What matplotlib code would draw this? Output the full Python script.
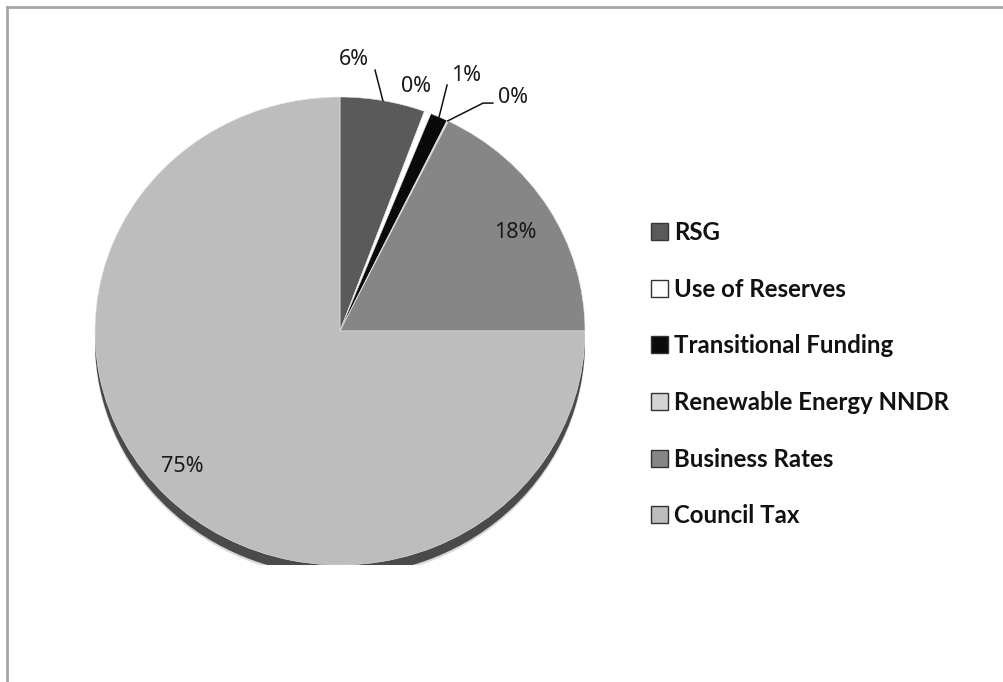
import matplotlib
matplotlib.use("Agg")
import matplotlib.pyplot as plt
from matplotlib.patches import Ellipse, Patch
from matplotlib.lines import Line2D
import numpy as np

categories = ["RSG", "Use of Reserves", "Transitional Funding",
              "Renewable Energy NNDR", "Business Rates", "Council Tax"]
values = [5.6, 0.45, 1.15, 0.1, 17.7, 75.0]
colors = ["#5a5a5a", "#ffffff", "#0a0a0a", "#d4d4d4", "#868686", "#bdbdbd"]

# layout: label positions (data coords of the pie axes) and leader line ends
label_pos = [(0.057, 1.162), (0.310, 1.047), (0.514, 1.090),
             (0.706, 1.000), (0.714, 0.419), (-0.645, -0.581)]
leaders = {0: [(0.143, 1.115)],
           2: [(0.437, 1.051)],
           3: [(0.584, 0.974), (0.624, 0.974)]}

W, H = 1004, 682
fig = plt.figure(figsize=(W / 100, H / 100), dpi=100)
fig.patch.set_facecolor("white")

# outer frame (gray, running off right/bottom)
fig.add_artist(Line2D([7 / W, 1.0], [1 - 7 / H, 1 - 7 / H], transform=fig.transFigure,
                      color="#a6a6a6", lw=2))
fig.add_artist(Line2D([7 / W, 7 / W], [0.0, 1 - 7 / H], transform=fig.transFigure,
                      color="#a6a6a6", lw=2))

cx, cy, rx, ry = 340, 331, 245, 234
ax = fig.add_axes([(cx - rx) / W, (H - cy - ry) / H, 2 * rx / W, 2 * ry / H])

# drop shadow
ax.add_patch(Ellipse((0, -0.055), 2.0, 2.0, color="#b0b0b0", alpha=0.5, zorder=0, lw=0))
ax.add_patch(Ellipse((0, -0.045), 2.0, 2.0, color="#4a4a4a", zorder=0.5, lw=0))

wedges, texts, autotexts = ax.pie(
    values, colors=colors, startangle=90, counterclock=False, radius=1.0,
    autopct=lambda p: f"{p:.0f}%",
    wedgeprops=dict(edgecolor="#e8e8e8", linewidth=0.4),
    textprops=dict(fontsize=15.5, family="Noto Sans", color="#1a1a1a"))
for w in wedges:
    w.set_zorder(2)
ax.set_aspect("auto")
ax.set_xlim(-1, 1)
ax.set_ylim(-1, 1)
ax.axis("off")

for i, t in enumerate(autotexts):
    t.set_position(label_pos[i])
    t.set_ha("center")
    t.set_va("center")
    t.set_zorder(5)

for i, pts in leaders.items():
    w = wedges[i]
    ang = np.deg2rad((w.theta1 + w.theta2) / 2)
    start = (np.cos(ang), np.sin(ang))
    xs = [start[0]] + [p[0] for p in pts]
    ys = [start[1]] + [p[1] for p in pts]
    ax.plot(xs, ys, color="#111111", lw=1.1, clip_on=False, zorder=4)

handles = [Patch(facecolor=c, edgecolor="#333333", linewidth=1.0) for c in colors]
leg = fig.legend(handles, categories, loc="upper left",
                 bbox_to_anchor=(639 / W, 1 - 209 / H),
                 frameon=False, handlelength=0.71, handleheight=0.71,
                 handletextpad=0.26, labelspacing=1.40, borderpad=0,
                 prop=dict(family=["Lato", "DejaVu Sans"], weight="bold", size=17.3))
for t in leg.get_texts():
    t.set_color("#111111")

fig.savefig("out.png", dpi=100, facecolor="white")
